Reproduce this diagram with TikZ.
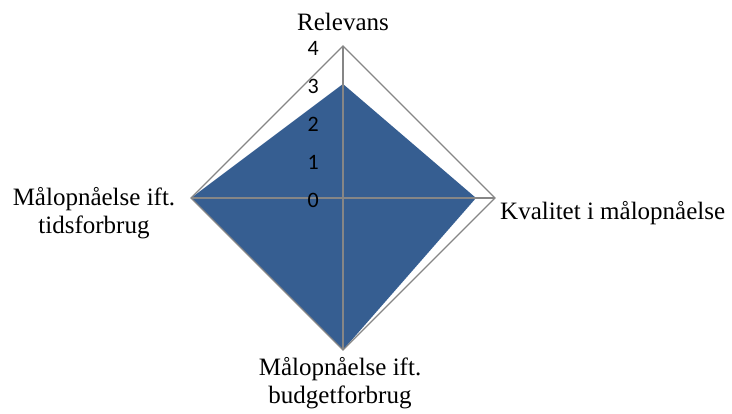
\documentclass[tikz,border=0pt]{standalone}
\usepackage{fontspec}
\setmainfont{Liberation Serif}
\newfontfamily\tickfont{Carlito}
\definecolor{radarblue}{RGB}{54,94,145}
\definecolor{axisgray}{RGB}{134,134,134}
\begin{document}
\begin{tikzpicture}[x=1pt,y=-1pt,
  axisline/.style={axisgray,line width=1.1pt},
  axislabel/.style={font=\fontsize{25}{28}\selectfont,align=center,inner sep=0pt},
  ticklabel/.style={font=\tickfont\fontsize{22}{24}\selectfont,anchor=east,inner sep=0pt}]
\useasboundingbox (0,0) rectangle (732,414);

\coordinate (c) at (343,198);
\coordinate (top) at (343,46);
\coordinate (right) at (495,198);
\coordinate (bottom) at (343,350);
\coordinate (left) at (191,198);

\coordinate (rel) at (343,84);
\coordinate (kval) at (476,198);

\fill[radarblue] (rel) -- (kval) -- (bottom) -- (left) -- cycle;
\draw[axisline] (top) -- (right) -- (bottom) -- (left) -- cycle;
\draw[axisline] (top) -- (bottom);
\draw[axisline] (left) -- (right);

\foreach \v in {0,...,4}
  \node[ticklabel] (tick\v) at (319,200-38*\v) {\v};

\node[axislabel] (relevans) at (343,22) {Relevans};
\node[axislabel,anchor=west] (kvalitet) at (500,213) {Kvalitet i målopnåelse};
\node[axislabel] (tid) at (94,213) {Målopnåelse ift.\\tidsforbrug};
\node[axislabel] (budget) at (340,383) {Målopnåelse ift.\\budgetforbrug};
\end{tikzpicture}
\end{document}
